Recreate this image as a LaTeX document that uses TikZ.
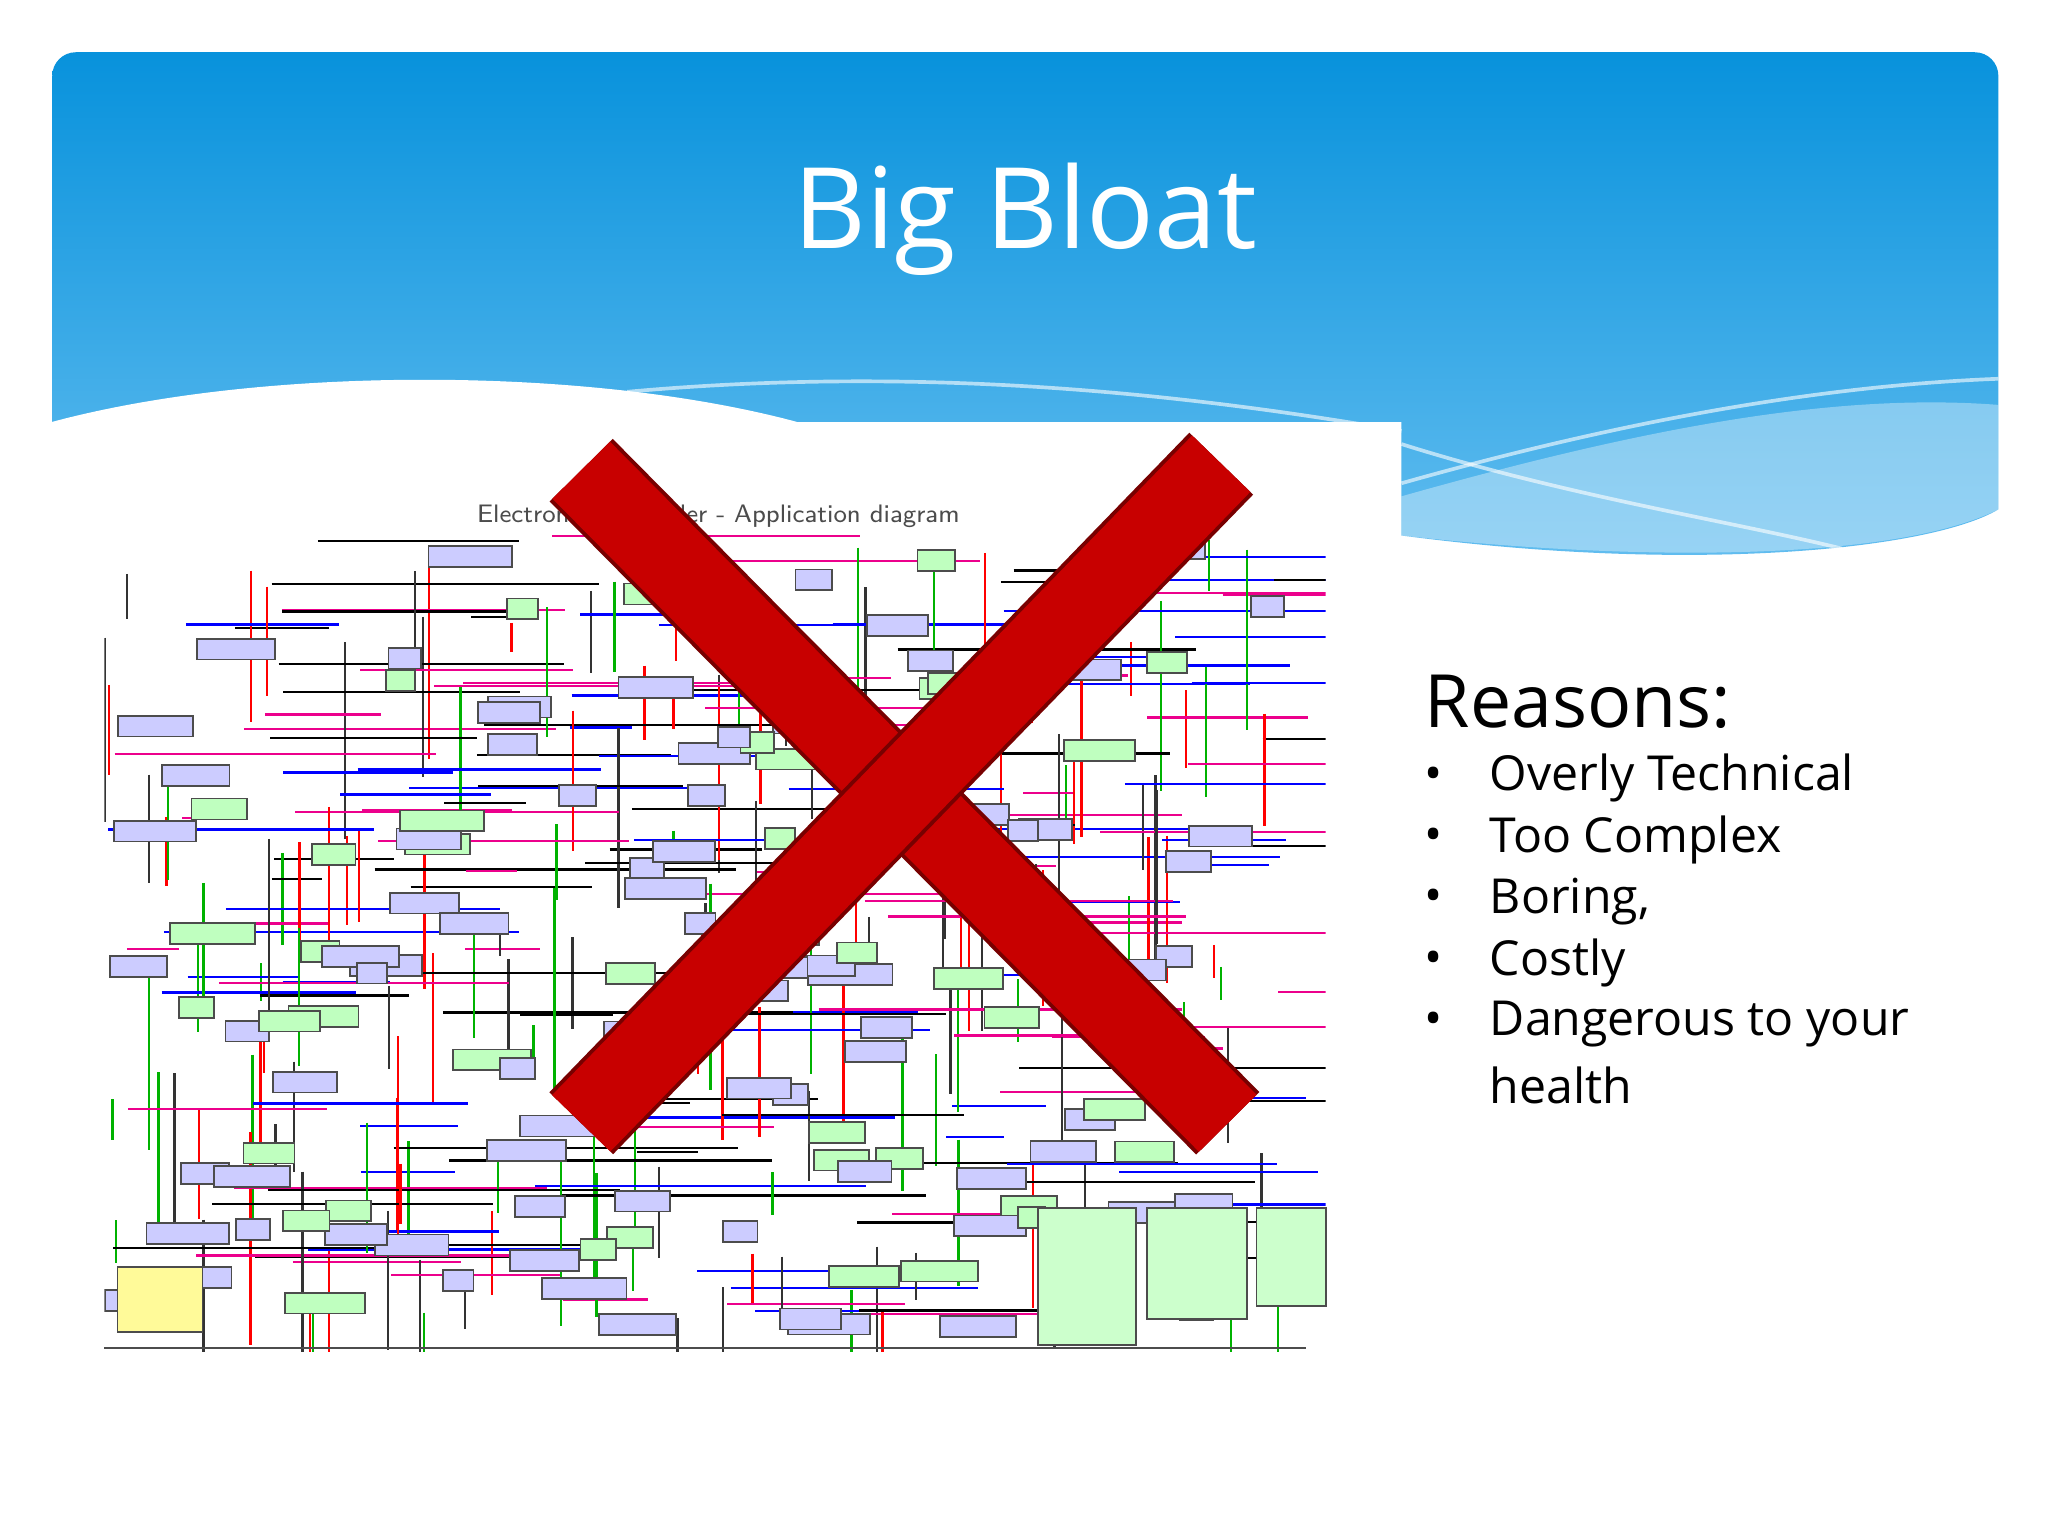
\documentclass[tikz,border=0pt]{standalone}
\usepackage{fontspec}
\setmainfont{Open Sans}
\definecolor{hdtop}{RGB}{8,146,220}
\definecolor{hdbot}{RGB}{100,190,240}
\definecolor{xdark}{RGB}{120,0,0}
\definecolor{xred}{RGB}{200,0,0}
\begin{document}
\begin{tikzpicture}[x=0.01cm,y=-0.01cm,
  wline/.style={white,opacity=0.6,line width=0.8pt},
  bullet/.style={anchor=west,font=\fontsize{10.5}{13}\selectfont,inner sep=0}]
\useasboundingbox (0,0) rectangle (1568,1176);
\fill[white] (0,0) rectangle (1568,1176);
\shade[top color=hdtop,bottom color=hdbot,rounded corners=0.18cm]
 (40,323) -- (40,40) -- (1530,40) [sharp corners]
 -- (1530,390) .. controls (1480,420) and (1300,440) .. (1073,410) -- (1073,323) -- cycle;
\fill[white] (40,323) .. controls (200,280) and (450,280) .. (610,323) -- cycle;
\fill[white,opacity=0.35] (1073,380) .. controls (1250,330) and (1400,300) .. (1530,310) -- (1530,390) .. controls (1450,430) and (1250,430) .. (1073,410) -- cycle;
\draw[wline] (480,300) .. controls (700,280) and (900,300) .. (1073,330);
\draw[wline] (1073,340) .. controls (1200,380) and (1330,400) .. (1410,420);
\draw[wline] (1073,370) .. controls (1250,320) and (1400,295) .. (1530,290);
\fill[white] (40,323) rectangle (1073,1176);
\node[white,font=\fontsize{24.5}{30}\selectfont] (title) at (785,168) {Big Bloat};
% messy diagram
\node[font=\sffamily\fontsize{5.5}{6}\selectfont,text=black!70] (dtitle) at (550,395) {Electronic Controller - Application diagram};
\begin{scope}
\clip (80,410) rectangle (1015,1035);
\pgfmathsetseed{7}
\foreach \i in {1,...,320}{
  \pgfmathsetmacro{\xa}{80+rnd*900}
  \pgfmathsetmacro{\ya}{410+rnd*600}
  \pgfmathsetmacro{\len}{30+rnd*250}
  \pgfmathtruncatemacro{\c}{mod(\i,6)}
  \pgfmathtruncatemacro{\o}{mod(\i,2)}
  \ifnum\c=0 \def\col{black}\fi
  \ifnum\c=1 \def\col{red}\fi
  \ifnum\c=2 \def\col{blue}\fi
  \ifnum\c=3 \def\col{green!70!black}\fi
  \ifnum\c=4 \def\col{magenta}\fi
  \ifnum\c=5 \def\col{black!80}\fi
  \ifnum\o=0
    \draw[\col,line width=0.5pt] (\xa,\ya) -- ++(\len,0);
  \else
    \draw[\col,line width=0.5pt] (\xa,\ya) -- ++(0,{\len*0.6});
  \fi
}
\foreach \i in {1,...,130}{
  \pgfmathsetmacro{\xa}{80+rnd*880}
  \pgfmathsetmacro{\ya}{410+rnd*600}
  \pgfmathsetmacro{\w}{20+rnd*45}
  \pgfmathtruncatemacro{\o}{mod(\i,3)}
  \ifnum\o=0 \def\fc{green!25}\else\def\fc{blue!20}\fi
  \draw[black!70,fill=\fc,line width=0.4pt] (\xa,\ya) rectangle ++(\w,16);
}
\end{scope}
\draw[black!70,fill=green!20] (795,925) rectangle (870,1030);
\draw[black!70,fill=green!20] (878,925) rectangle (955,1010);
\draw[black!70,fill=green!20] (962,925) rectangle (1015,1000);
\draw[black!70,fill=yellow!40] (90,970) rectangle (155,1020);
\draw[black!70] (80,1032) -- (1000,1032);
% red X
\draw[line width=0.68cm,xdark] (445,360) -- (940,860);
\draw[line width=0.62cm,xred] (445,360) -- (940,860);
\draw[line width=0.68cm,xdark] (935,355) -- (445,860);
\draw[line width=0.62cm,xred] (935,355) -- (445,860);
% text
\node[anchor=west,font=\fontsize{16}{20}\selectfont,inner sep=0] (reasons) at (1090,537) {Reasons:};
\foreach \t [count=\k] in {Overly Technical,Too Complex,{Boring,},Costly,Dangerous to your}{
  \node[bullet] (b\k) at (1090,{549+47*\k}) {•};
  \node[bullet] (t\k) at (1140,{549+47*\k}) {\t};
}
\node[bullet] (t6) at (1140,831) {health};
\end{tikzpicture}
\end{document}
